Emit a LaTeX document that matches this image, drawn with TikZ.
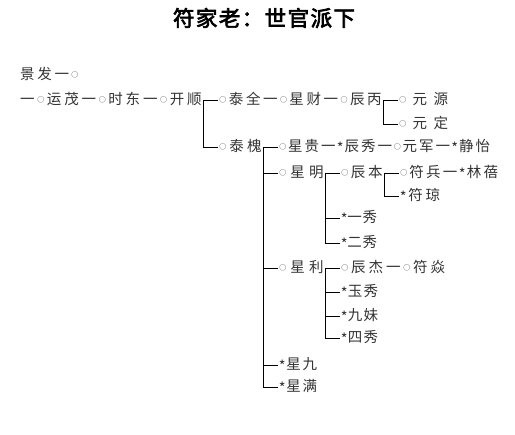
\documentclass[tikz,border=0pt]{standalone}
\usepackage{fontspec}
\newfontfamily\cjk{Noto Sans CJK SC}
\newfontfamily\tfont{Noto Sans CJK SC}[FakeBold=3]
\def\sprA#1{#1\sprB}
\def\sprB#1{\ifx#1\relax\else\hfil#1\expandafter\sprB\fi}
\newcommand\rt[2]{\hbox to #1pt{\sprA#2\relax}}
\newcommand\ocir{\makebox[0.45em]{\raisebox{2.6pt}{\fontsize{7pt}{7pt}\selectfont ○}}}
\newcommand\ostar{\makebox[0.35em]{\raisebox{-2pt}{*}}}
\tikzset{
  rowtxt/.style={anchor=west, inner xsep=1.5pt, inner ysep=0pt,
    text height=11.5pt, text depth=1.5pt,
    font=\cjk\fontsize{14.5pt}{16pt}\selectfont, text=black!80},
  link/.style={draw=black, line width=0.8pt}
}
\begin{document}
\begin{tikzpicture}[x=1pt,y=-1pt]
\useasboundingbox (0,0) rectangle (515,435);
\fill[white] (0,0) rectangle (515,435);
\node[font=\tfont\fontsize{21.5pt}{23pt}\selectfont, inner sep=0pt] (title) at (264,18) {\rt{182}{符家老：世官派下}};
% rows
\node[rowtxt] (jingfa)   at (18.5,75)  {\rt{58}{景发一\ocir}};
\node[rowtxt] (kaishun)  at (18.5,100) {\rt{181.5}{一\ocir 运茂一\ocir 时东一\ocir 开顺}};
\node[rowtxt] (taiquan)  at (218,100)  {\rt{162}{\ocir 泰全一\ocir 星财一\ocir 辰丙}};
\node[rowtxt] (taihuai)  at (218,147)  {\rt{42}{\ocir 泰槐}};
\node[rowtxt] (yuanyuan) at (398,100)  {\rt{48.5}{\ocir 元源}};
\node[rowtxt] (yuanding) at (398,124)  {\rt{48.5}{\ocir 元定}};
\node[rowtxt] (xinggui)  at (278,147)  {\rt{210.5}{\ocir 星贵一\ostar 辰秀一\ocir 元军一\ostar 静怡}};
\node[rowtxt] (xingming) at (278,173)  {\rt{44}{\ocir 星明}};
\node[rowtxt] (xingli)   at (278,268)  {\rt{44}{\ocir 星利}};
\node[rowtxt] (xingjiu)  at (278,365)  {\rt{37.5}{\ostar 星九}};
\node[rowtxt] (xingman)  at (278,387)  {\rt{37.5}{\ostar 星满}};
\node[rowtxt] (chenben)  at (340,173)  {\rt{41}{\ocir 辰本}};
\node[rowtxt] (yixiu)    at (340,218)  {\rt{35.5}{\ostar 一秀}};
\node[rowtxt] (erxiu)    at (340,243)  {\rt{35.5}{\ostar 二秀}};
\node[rowtxt] (fubing)   at (399,173)  {\rt{97.5}{\ocir 符兵一\ostar 林蓓}};
\node[rowtxt] (fuqiong)  at (399,196)  {\rt{39.5}{\ostar 符琼}};
\node[rowtxt] (chenjie)  at (340,268)  {\rt{103.5}{\ocir 辰杰一\ocir 符焱}};
\node[rowtxt] (yuxiu)    at (340,292)  {\rt{36.5}{\ostar 玉秀}};
\node[rowtxt] (jiumei)   at (340,316)  {\rt{36.5}{\ostar 九妹}};
\node[rowtxt] (sixiu)    at (340,338)  {\rt{36.5}{\ostar 四秀}};
% brackets
\draw[link] (kaishun.east) -- (taiquan.west);
\draw[link] (kaishun.east) |- (taihuai.west);
\draw[link] (taiquan.east) -- (yuanyuan.west);
\draw[link] (taiquan.east) |- (yuanding.west);
\draw[link] (taihuai.east) -- (xinggui.west);
\draw[link] (taihuai.east) |- (xingman.west);
\draw[link] (taihuai.east |- xingming.west) -- (xingming.west);
\draw[link] (taihuai.east |- xingli.west) -- (xingli.west);
\draw[link] (taihuai.east |- xingjiu.west) -- (xingjiu.west);
\draw[link] (xingming.east) -- (chenben.west);
\draw[link] (xingming.east) |- (erxiu.west);
\draw[link] (xingming.east |- yixiu.west) -- (yixiu.west);
\draw[link] (chenben.east) -- (fubing.west);
\draw[link] (chenben.east) |- (fuqiong.west);
\draw[link] (xingli.east) -- (chenjie.west);
\draw[link] (xingli.east) |- (sixiu.west);
\draw[link] (xingli.east |- yuxiu.west) -- (yuxiu.west);
\draw[link] (xingli.east |- jiumei.west) -- (jiumei.west);
\end{tikzpicture}
\end{document}
